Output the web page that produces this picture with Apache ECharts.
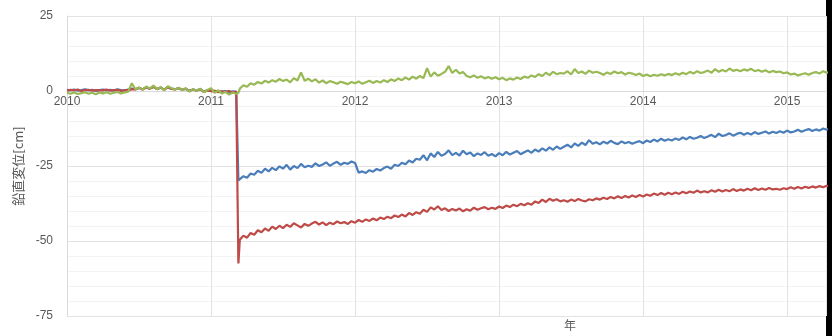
<!DOCTYPE html>
<html><head><meta charset="utf-8">
<script src="https://cdn.jsdelivr.net/npm/echarts@6/dist/echarts.min.js"></script>
<style>html,body{margin:0;padding:0;background:#fff}#c{width:832px;height:336px}</style>
</head><body><div id="c"></div>
<script>
// sampling: pre-quake values from 2010.000 every 0.025 yr; quake at 2011.19; post-quake from 2011.200 every 0.025 yr
const preStart = 2010.0, postStart = 2011.2, step = 0.025, quakeYear = 2011.19;
const yTicks = [-75, -50, -25, 0, 25];
const xYears = [2010, 2011, 2012, 2013, 2014, 2015];

const greenPre = [
 -0.6,-0.9,-0.5,-1.0,-0.7,-0.4,-0.9,-0.6,-1.1,-0.5,
 -0.8,-0.4,-0.9,-0.6,-0.3,-0.8,-0.5,-0.2,2.6,0.6,
 1.2,0.4,1.5,0.8,1.8,0.6,1.3,0.2,1.6,0.9,
 0.5,1.1,0.3,0.9,-0.2,0.6,0.1,0.8,-0.4,0.3,
 0.9,-0.6,0.2,-0.8,-0.3,-1.2,-0.5,-0.9];
const bluePre = [
 0.4,0.2,0.5,0.1,0.3,0.6,0.2,0.4,0.0,0.3,
 0.5,0.2,0.4,0.1,0.6,0.3,0.2,0.5,0.8,0.6,
 1.0,0.6,1.2,0.8,1.3,0.7,1.1,0.5,1.2,0.8,
 0.6,0.9,0.4,0.7,0.1,0.5,0.2,0.6,-0.2,0.2,
 0.2,-0.2,0.1,-0.3,0.0,-0.4,-0.1,-0.3];
const redPre = [
 0.1,0.4,0.2,0.5,0.0,0.3,0.4,0.1,0.3,0.2,
 0.2,0.5,0.1,0.3,0.4,0.0,0.3,0.2,0.6,0.5,
 1.1,0.5,1.3,0.7,1.5,0.6,1.2,0.4,1.3,0.7,
 0.5,1.0,0.3,0.8,0.0,0.5,0.1,0.7,-0.3,0.2,
 -0.1,0.1,-0.4,-0.1,-0.3,0.0,-0.5,-0.2];

const greenQuake = -0.6, blueQuake = -29.8, redQuake = -57.5;

const bluePost = [
 -29.6,-28.4,-28.9,-27.5,-27.9,-26.6,-27.3,-25.9,-26.8,-25.6,
 -26.4,-25.1,-25.9,-24.6,-26.2,-25.0,-25.7,-24.3,-25.4,-24.9,
 -25.3,-24.1,-25.0,-24.5,-23.8,-24.9,-24.2,-23.6,-24.6,-23.9,
 -24.3,-23.5,-24.0,-27.2,-26.8,-27.3,-26.4,-26.9,-26.0,-26.5,
 -25.7,-25.2,-25.9,-24.6,-25.0,-23.9,-24.4,-23.2,-23.8,-22.6,
 -22.9,-21.4,-23.1,-20.8,-22.0,-20.3,-21.6,-21.0,-19.8,-21.4,
 -20.6,-21.5,-19.9,-21.1,-20.5,-21.7,-20.8,-21.3,-20.4,-21.6,
 -21.0,-21.8,-20.7,-21.4,-20.3,-21.2,-20.6,-20.0,-21.1,-20.4,
 -19.8,-20.6,-19.5,-20.2,-19.1,-19.9,-18.8,-19.6,-18.5,-19.3,
 -18.6,-17.9,-18.8,-17.5,-18.3,-17.2,-18.0,-16.4,-17.6,-17.1,
 -17.8,-16.9,-17.5,-16.6,-17.3,-17.7,-16.8,-17.4,-17.0,-17.6,
 -17.1,-16.7,-17.4,-16.5,-17.0,-16.2,-16.8,-15.9,-16.6,-16.1,
 -16.5,-15.8,-16.3,-15.5,-16.1,-15.3,-15.9,-15.6,-15.0,-15.7,
 -15.2,-14.6,-15.4,-14.2,-15.0,-14.7,-14.1,-14.9,-14.3,-13.9,
 -14.6,-14.0,-14.5,-13.7,-14.3,-13.9,-13.5,-14.2,-13.6,-14.0,
 -13.4,-13.9,-13.2,-13.8,-13.5,-12.9,-13.6,-13.1,-12.7,-13.3,
 -12.8,-13.2,-12.5,-12.9,-12.4];
const redPost = [
 -49.6,-48.2,-48.9,-47.3,-47.9,-46.4,-47.1,-45.8,-46.6,-45.2,
 -46.0,-44.9,-45.7,-44.6,-45.3,-44.1,-44.8,-45.5,-44.3,-44.9,
 -44.2,-43.6,-44.5,-43.8,-44.7,-43.9,-44.4,-43.5,-44.1,-43.7,
 -44.3,-43.4,-43.9,-43.0,-43.6,-42.8,-43.3,-42.5,-43.1,-42.2,
 -42.7,-41.9,-42.4,-41.5,-42.0,-41.2,-41.8,-40.7,-41.3,-40.4,
 -40.9,-39.6,-40.3,-38.8,-39.5,-38.4,-39.7,-39.1,-40.0,-39.3,
 -39.8,-39.2,-40.1,-39.4,-39.9,-38.9,-39.6,-39.1,-38.7,-39.4,
 -38.9,-39.3,-38.5,-39.0,-38.2,-38.7,-37.9,-38.4,-37.6,-38.1,
 -37.4,-37.9,-36.8,-37.3,-36.2,-37.0,-35.9,-36.6,-36.1,-36.8,
 -36.4,-36.9,-36.2,-36.7,-36.0,-36.5,-36.8,-36.1,-36.4,-35.8,
 -36.2,-35.6,-36.0,-35.3,-35.8,-35.1,-35.7,-35.0,-35.5,-34.8,
 -35.3,-34.7,-35.2,-34.5,-34.9,-34.2,-34.7,-34.0,-34.6,-33.9,
 -34.4,-33.8,-34.3,-33.6,-34.1,-33.5,-33.9,-33.2,-33.8,-33.4,
 -33.8,-33.1,-33.6,-32.9,-33.5,-33.0,-33.4,-32.7,-33.3,-32.8,
 -33.2,-32.6,-33.1,-32.4,-33.0,-32.5,-32.9,-32.3,-32.8,-32.6,
 -32.9,-32.4,-32.7,-32.1,-32.6,-32.0,-32.5,-31.9,-32.3,-31.8,
 -32.2,-31.7,-32.1,-31.6,-31.9];
const greenPost = [
 0.8,1.9,1.4,2.6,2.1,3.0,2.5,3.4,2.8,3.6,
 3.1,4.0,3.3,3.8,2.9,4.3,3.5,6.2,3.4,4.1,
 3.2,3.9,2.8,3.5,2.6,3.3,2.9,2.4,3.1,2.7,
 2.3,3.0,2.6,3.2,2.4,2.9,3.4,2.7,3.3,2.8,
 3.6,3.0,3.9,3.3,4.2,3.6,4.5,3.8,4.8,4.1,
 5.0,4.3,7.6,4.8,6.2,5.1,5.7,6.4,8.3,6.0,
 7.1,5.8,6.3,5.0,4.6,5.2,4.4,4.9,4.2,4.7,
 4.1,4.6,3.9,4.4,3.6,4.2,3.8,4.5,4.0,4.8,
 4.4,5.2,4.7,5.6,5.0,6.1,5.3,6.4,5.6,6.0,
 5.8,6.6,5.5,7.3,6.0,6.5,5.7,6.8,6.1,6.4,
 6.0,5.4,6.2,5.7,6.5,5.9,6.3,5.5,6.1,5.8,
 5.3,5.8,5.0,5.5,4.9,5.4,5.1,5.6,5.2,5.7,
 5.3,5.9,5.4,6.1,5.6,6.4,5.8,6.6,6.0,6.3,
 6.8,6.1,7.3,6.4,7.0,6.5,7.5,6.7,7.1,6.6,
 7.2,6.8,7.4,6.6,7.0,6.4,6.9,6.2,6.7,6.3,
 6.5,5.9,6.2,5.5,5.8,5.2,5.6,5.9,5.4,6.0,
 6.3,5.8,6.6,6.1,6.4];

function build(pre, quake, post) {
  const d = [];
  pre.forEach((v, i) => d.push([+(preStart + i * step).toFixed(3), v]));
  d.push([quakeYear, quake]);
  post.forEach((v, i) => d.push([+(postStart + i * step).toFixed(3), v]));
  return d;
}

const chart = echarts.init(document.getElementById('c'), null, {renderer: 'canvas'});
const numFont = 'Liberation Sans';
chart.setOption({
  animation: false,
  backgroundColor: '#ffffff',
  grid: {left: 67, right: 6, top: 16, bottom: 20, containLabel: false},
  xAxis: {
    type: 'value', min: xYears[0], max: 2015.27, interval: 1,
    position: 'bottom', offset: -225,
    axisLine: {show: true, onZero: false, lineStyle: {color: '#d9d9d9', width: 1}},
    axisTick: {show: false},
    axisLabel: {color: '#595959', fontSize: 12, fontFamily: numFont, margin: 5, showMaxLabel: false,
      formatter: v => xYears.includes(v) ? String(v) : ''},
    splitLine: {show: true, lineStyle: {color: '#e3e3e3', width: 1}}
  },
  yAxis: {
    type: 'value', min: yTicks[0], max: yTicks[yTicks.length - 1], interval: 25,
    name: '鉛直変位[cm]', nameLocation: 'middle', nameRotate: 90, nameGap: 40,
    nameTextStyle: {color: '#595959', fontSize: 13, fontFamily: 'Noto Sans CJK JP'},
    axisLine: {show: true, lineStyle: {color: '#d9d9d9'}},
    axisTick: {show: false},
    minorTick: {show: false, splitNumber: 5},
    minorSplitLine: {show: true, lineStyle: {color: '#f3f3f3', width: 1}},
    axisLabel: {color: '#595959', fontSize: 12, fontFamily: numFont, margin: 14},
    splitLine: {show: true, lineStyle: {color: '#e3e3e3', width: 1}}
  },
  series: [
    {name: 'blue', type: 'line', showSymbol: false, data: build(bluePre, blueQuake, bluePost),
     lineStyle: {color: '#4a7ebb', width: 2.2}, itemStyle: {color: '#4a7ebb'}},
    {name: 'red', type: 'line', showSymbol: false, data: build(redPre, redQuake, redPost),
     lineStyle: {color: '#be4b48', width: 2.2}, itemStyle: {color: '#be4b48'}},
    {name: 'green', type: 'line', showSymbol: false, data: build(greenPre, greenQuake, greenPost),
     lineStyle: {color: '#98b954', width: 2.2}, itemStyle: {color: '#98b954'}}
  ],
  graphic: [
    {type: 'text', left: 564, top: 319, style: {text: '年', fill: '#595959', fontSize: 12, fontFamily: 'Noto Sans CJK JP'}},
    {type: 'rect', shape: {x: 826, y: 0, width: 6, height: 336}, style: {fill: '#000000'}}
  ]
});
</script>
</body></html>
